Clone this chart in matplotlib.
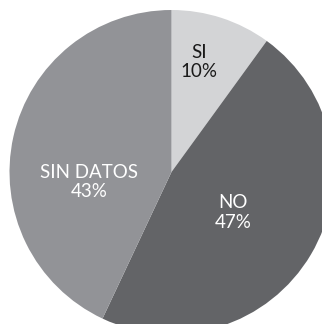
import matplotlib.pyplot as plt

# Share of responses
labels = ['SI', 'NO', 'SIN DATOS']
values = [10, 47, 43]
colors = ['#d3d4d6', '#636467', '#929397']
text_colors = ['#1a1a1a', 'white', 'white']

# label anchor points in pie units (radius = 1)
label_pos = [(0.17, 0.68), (0.38, -0.25), (-0.51, -0.06)]

plt.rcParams['font.family'] = ['Lato', 'DejaVu Sans']

fig = plt.figure(figsize=(3.22, 3.24), dpi=100)
# the pie runs past the right and bottom edges
ax = fig.add_axes([9.5 / 322, -10 / 324, 324 / 322, 324 / 324])
ax.pie(values, colors=colors, startangle=90, counterclock=False,
       radius=1, wedgeprops=dict(linewidth=0))
ax.set_xlim(-1, 1)
ax.set_ylim(-1, 1)
ax.set_aspect('auto')
ax.axis('off')

for lab, val, (x, y), c in zip(labels, values, label_pos, text_colors):
    ax.text(x, y, f'{lab}\n{val}%', ha='center', va='center',
            fontsize=13.5, color=c, linespacing=1.15)

fig.savefig('out.png', dpi=100)
